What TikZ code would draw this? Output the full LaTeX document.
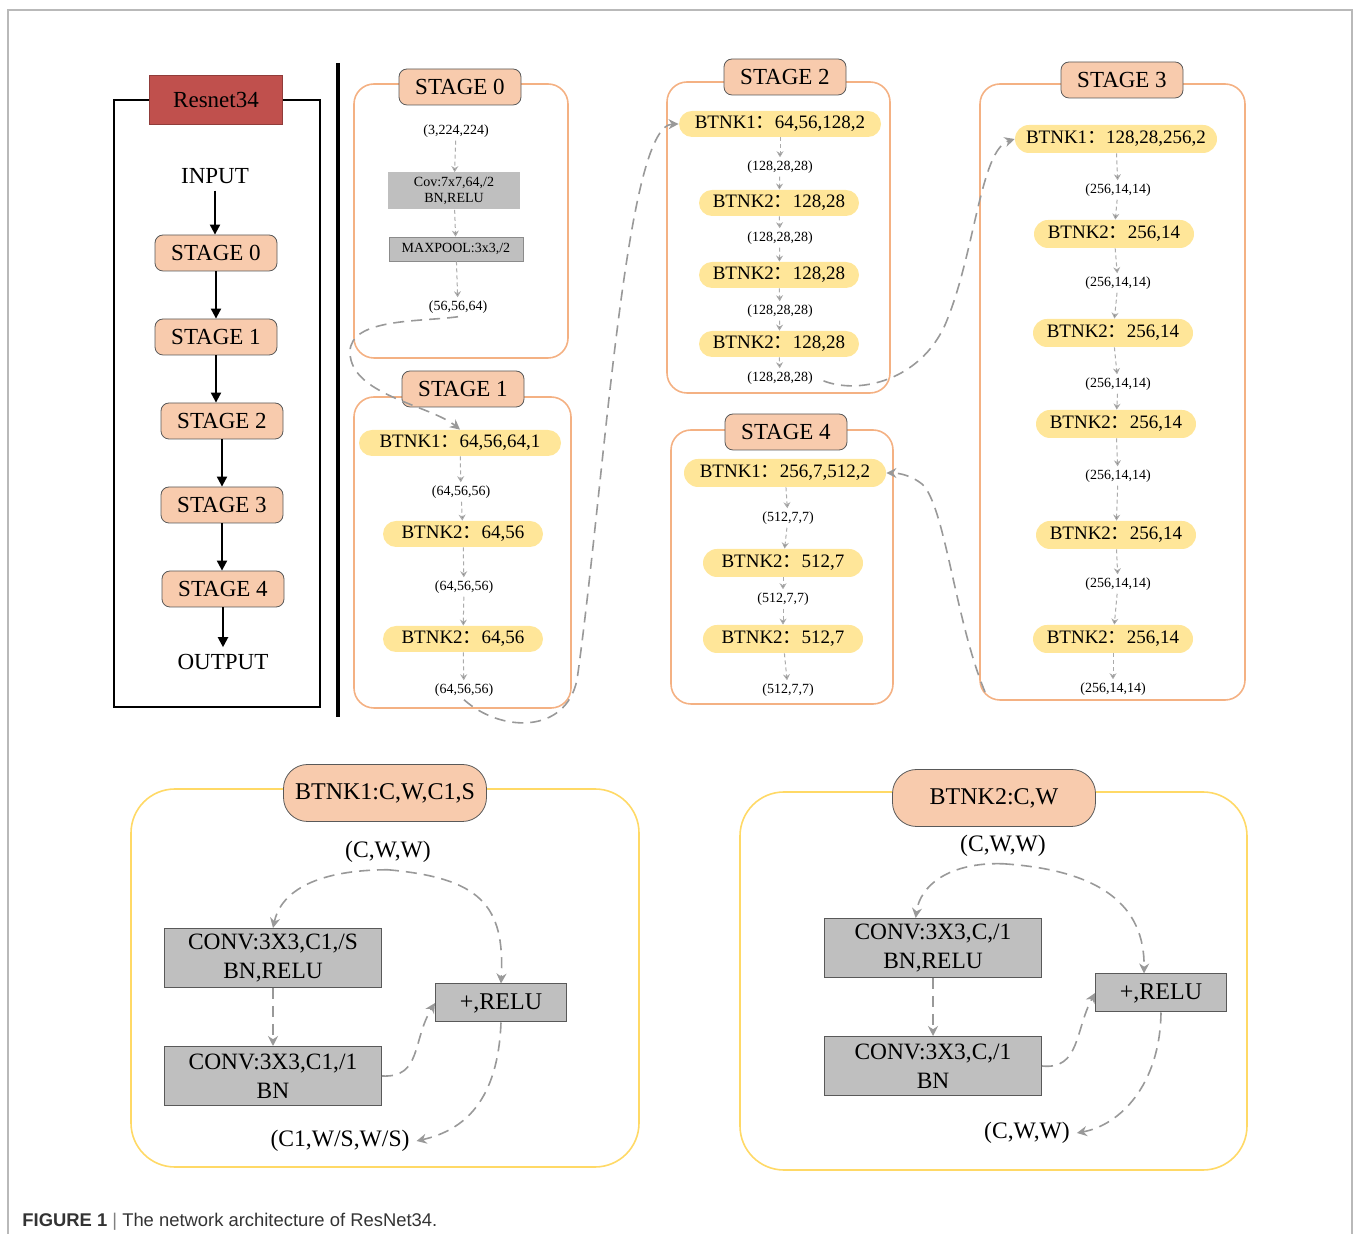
\documentclass[tikz,border=0pt]{standalone}
\usepackage{fontspec}
\setmainfont{Liberation Serif}
\newfontfamily\capfont{Liberation Sans}
\newfontfamily\cjk{Noto Sans CJK SC}
\usepackage{tikz}
\usetikzlibrary{arrows.meta, positioning, calc}

\definecolor{peach}{HTML}{F8CBAD}
\definecolor{peachline}{HTML}{F4B183}
\definecolor{pillc}{HTML}{FFE699}
\definecolor{boxgray}{HTML}{BFBFBF}
\definecolor{netred}{HTML}{C0504D}
\definecolor{yline}{HTML}{FFD966}
\definecolor{flowc}{HTML}{ABABAB}
\definecolor{linkc}{HTML}{999999}
\definecolor{edgegray}{HTML}{595959}

\newcommand{\fc}{{\cjk ：}}

\tikzset{
  stg/.style = {draw=edgegray, fill=peach, rounded corners=4pt, minimum width=61pt,
                minimum height=18pt, inner sep=0pt, font=\fontsize{11.5}{13}\selectfont},
  head/.style = {draw=edgegray, fill=peach, rounded corners=12pt, minimum width=101.5pt,
                 minimum height=28.5pt, inner sep=0pt, font=\fontsize{12}{14}\selectfont},
  netbox/.style = {fill=netred, draw=netred!75!black, minimum width=66.5pt,
                   minimum height=24.5pt, inner sep=0pt, font=\fontsize{11.5}{13}\selectfont},
  lbl/.style = {font=\fontsize{11.5}{13}\selectfont},
  pill/.style = {fill=pillc, rounded corners=6.5pt, minimum height=13pt, minimum width=80pt,
                 inner sep=0pt, font=\fontsize{9.5}{11}\selectfont},
  wide/.style = {minimum width=101pt},
  tall/.style = {minimum height=14pt, rounded corners=7pt},
  dim/.style = {font=\fontsize{7}{8}\selectfont, inner sep=1.5pt},
  gbox/.style = {fill=boxgray, draw=edgegray!70, line width=0.4pt, align=center, inner sep=0pt,
                 font=\fontsize{7}{8}\selectfont},
  cbox/.style = {fill=boxgray, draw=edgegray, line width=0.5pt, align=center, inner sep=0pt,
                 minimum width=108.5pt, minimum height=29.5pt, font=\fontsize{11.7}{14.5}\selectfont},
  addbox/.style = {fill=boxgray, draw=edgegray, line width=0.5pt, inner sep=0pt,
                   minimum width=65.5pt, minimum height=19pt, font=\fontsize{12}{14}\selectfont},
  big/.style = {font=\fontsize{11.8}{14}\selectfont},
  cont/.style = {draw=peachline, line width=0.8pt, rounded corners=10pt},
  ycont/.style = {draw=yline, line width=0.8pt, rounded corners=22pt},
  down/.style = {-{Triangle[length=5pt, width=5pt]}, line width=1pt},
  flowarr/.style = {draw=flowc, dash pattern=on 2pt off 1.5pt, line width=0.5pt,
                    -{Stealth[length=3pt, width=3.5pt]}},
  link/.style = {draw=linkc, dash pattern=on 5.5pt off 3.5pt, line width=0.8pt,
                 -{Stealth[length=5pt, width=5pt]}}
}

\begin{document}
\begin{tikzpicture}[x=0.5pt, y=-0.5pt]
  \useasboundingbox (0,0) rectangle (1356,1234);
  \draw [gray!55, line width=0.6pt] (8,1240) -- (8,10) -- (1352,10) -- (1352,1240);

  % overview column
  \draw [line width=0.75pt] (114,100) rectangle (320,707);
  \node (net) [netbox] at (216,100) {Resnet34};
  \node (in) [lbl] at (215,176) {INPUT};
  \node (S0) [stg] at (216,253) {STAGE 0};
  \node (S1) [stg] at (216,337) {STAGE 1};
  \node (S2) [stg] at (222,421) {STAGE 2};
  \node (S3) [stg] at (222,505) {STAGE 3};
  \node (S4) [stg] at (223,589) {STAGE 4};
  \node (out) [lbl] at (223,662) {OUTPUT};
  \draw [down] (in) -- (in |- S0.north);
  \draw [down] (S0.south) -- (S0.south |- S1.north);
  \draw [down] (S1.south) -- (S1.south |- S2.north);
  \draw [down] (S2.south) -- (S2.south |- S3.north);
  \draw [down] (S3.south) -- (S3.south |- S4.north);
  \draw [down] (S4.south) -- (S4.south |- out.north);

  \draw [line width=2pt] (338,63) -- (338,717);

  % stage 0
  \draw [cont] (354,84) rectangle (568,358);
  \node (T0) [stg] at (460,87) {STAGE 0};
  \node (i0) [dim] at (456,131) {(3,224,224)};
  \node (cv) [gbox, draw=none, minimum width=66pt, minimum height=18.5pt] at (454,191) {Cov:7x7,64,/2\\BN,RELU};
  \node (mp) [gbox, minimum width=67pt, minimum height=12pt] at (456,249) {MAXPOOL:3x3,/2};
  \node (o0) [dim] at (458,307) {(56,56,64)};
  \path [flowarr] (i0) edge (cv) (cv) edge (mp) (mp) edge (o0);

  % stage 1
  \draw [cont] (354,397) rectangle (571,708);
  \node (T1) [stg] at (463,389) {STAGE 1};
  \node (b10) [pill, wide] at (460,443) {BTNK1\fc 64,56,64,1};
  \node (d10) [dim] at (461,492) {(64,56,56)};
  \node (b11) [pill] at (463,534) {BTNK2\fc 64,56};
  \node (d11) [dim] at (464,587) {(64,56,56)};
  \node (b12) [pill] at (463,639) {BTNK2\fc 64,56};
  \node (d12) [dim] at (464,690) {(64,56,56)};
  \path [flowarr] (b10) edge (d10) (d10) edge (b11) (b11) edge (d11)
                  (d11) edge (b12) (b12) edge (d12);

  % stage 2
  \draw [cont] (667,82) rectangle (890,393);
  \node (T2) [stg] at (785,77) {STAGE 2};
  \node (b20) [pill, wide] at (780,124) {BTNK1\fc 64,56,128,2};
  \node (d20) [dim] at (780,167) {(128,28,28)};
  \node (b21) [pill] at (779,203) {BTNK2\fc 128,28};
  \node (d21) [dim] at (780,238) {(128,28,28)};
  \node (b22) [pill] at (779,275) {BTNK2\fc 128,28};
  \node (d22) [dim] at (780,311) {(128,28,28)};
  \node (b23) [pill] at (779,344) {BTNK2\fc 128,28};
  \node (d23) [dim] at (780,378) {(128,28,28)};
  \path [flowarr] (b20) edge (d20) (d20) edge (b21) (b21) edge (d21)
                  (d21) edge (b22) (b22) edge (d22) (d22) edge (b23) (b23) edge (d23);

  % stage 3
  \draw [cont] (980,84) rectangle (1245,700);
  \node (T3) [stg] at (1122,80) {STAGE 3};
  \node (b30) [pill, wide, tall] at (1116,139) {BTNK1\fc 128,28,256,2};
  \node (d30) [dim] at (1118,190) {(256,14,14)};
  \node (b31) [pill, tall] at (1114,234) {BTNK2\fc 256,14};
  \node (d31) [dim] at (1118,283) {(256,14,14)};
  \node (b32) [pill, tall] at (1113,333) {BTNK2\fc 256,14};
  \node (d32) [dim] at (1118,384) {(256,14,14)};
  \node (b33) [pill, tall] at (1116,424) {BTNK2\fc 256,14};
  \node (d33) [dim] at (1118,476) {(256,14,14)};
  \node (b34) [pill, tall] at (1116,535) {BTNK2\fc 256,14};
  \node (d34) [dim] at (1118,584) {(256,14,14)};
  \node (b35) [pill, tall] at (1113,639) {BTNK2\fc 256,14};
  \node (d35) [dim] at (1113,689) {(256,14,14)};
  \path [flowarr] (b30) edge (d30) (d30) edge (b31) (b31) edge (d31)
                  (d31) edge (b32) (b32) edge (d32) (d32) edge (b33) (b33) edge (d33)
                  (d33) edge (b34) (b34) edge (d34) (d34) edge (b35) (b35) edge (d35);

  % stage 4
  \draw [cont] (671,430) rectangle (893,704);
  \node (T4) [stg] at (786,432) {STAGE 4};
  \node (b40) [pill, wide, tall] at (785,473) {BTNK1\fc 256,7,512,2};
  \node (d40) [dim] at (788,518) {(512,7,7)};
  \node (b41) [pill, tall] at (783,563) {BTNK2\fc 512,7};
  \node (d41) [dim] at (783,599) {(512,7,7)};
  \node (b42) [pill, tall] at (783,639) {BTNK2\fc 512,7};
  \node (d42) [dim] at (788,690) {(512,7,7)};
  \path [flowarr] (b40) edge (d40) (d40) edge (b41) (b41) edge (d41)
                  (d41) edge (b42) (b42) edge (d42);

  % links between stages
  \coordinate (s3out) at (985,692);
  \draw [link] (o0.south) .. controls (420,322) and (350,318) .. (350,352)
               .. controls (350,395) and (430,405) .. (b10.north);
  \draw [link] (d12.south) .. controls (500,732) and (565,735) .. (577,680)
               .. controls (605,480) and (625,125) .. (b20.west);
  \draw [link, shorten <=4pt] (d23.east) .. controls (860,395) and (920,380) .. (945,325)
               .. controls (975,255) and (980,150) .. (b30.west);
  \draw [link] (s3out) .. controls (955,620) and (945,505) .. (922,484)
               .. controls (912,476) and (900,473) .. (b40.east);

  % bottleneck 1
  \draw [ycont] (131,789) rectangle (639,1167);
  \node (H1) [head] at (385,793) {BTNK1:C,W,C1,S};
  \node (x1) [big] at (388,852) {(C,W,W)};
  \node (c11) [cbox] at (273,958) {CONV:3X3,C1,/S\\BN,RELU};
  \node (c12) [cbox] at (273,1076) {CONV:3X3,C1,/1\\BN};
  \node (r1) [addbox] at (501,1003) {+,RELU};
  \node (y1) [big] at (340,1141) {(C1,W/S,W/S)};
  \draw [link] (x1.south) .. controls (310,870) and (280,895) .. (c11.north);
  \draw [link] (x1.south) .. controls (480,878) and (505,905) .. (r1.north);
  \draw [link] (c11) -- (c12);
  \draw [link] (c12.east) .. controls (422,1078) and (412,1040) .. (r1.west);
  \draw [link] (r1.south) .. controls (498,1100) and (465,1130) .. (y1.east);

  % bottleneck 2
  \draw [ycont] (740,792) rectangle (1247,1170);
  \node (H2) [head] at (994,798) {BTNK2:C,W};
  \node (x2) [big] at (1003,846) {(C,W,W)};
  \node (c21) [cbox] at (933,948) {CONV:3X3,C,/1\\BN,RELU};
  \node (c22) [cbox] at (933,1066) {CONV:3X3,C,/1\\BN};
  \node (r2) [addbox] at (1161,993) {+,RELU};
  \node (y2) [big] at (1027,1133) {(C,W,W)};
  \draw [link] (x2.south) .. controls (950,862) and (920,885) .. (c21.120);
  \draw [link] (x2.south) .. controls (1100,870) and (1145,905) .. ($(r2.north)+(-17,0)$);
  \draw [link] (c21) -- (c22);
  \draw [link] (c22.east) .. controls (1080,1070) and (1075,1030) .. (r2.west);
  \draw [link] (r2.south) .. controls (1160,1085) and (1120,1125) .. (y2.east);

  \node (cap) [anchor=base west, inner sep=0pt, text=black!80,
               font=\capfont\fontsize{9.2}{11}\selectfont] at (22,1226)
       {\textbf{FIGURE 1}\ \textcolor{gray}{|}\ The network architecture of ResNet34.};
\end{tikzpicture}
\end{document}
